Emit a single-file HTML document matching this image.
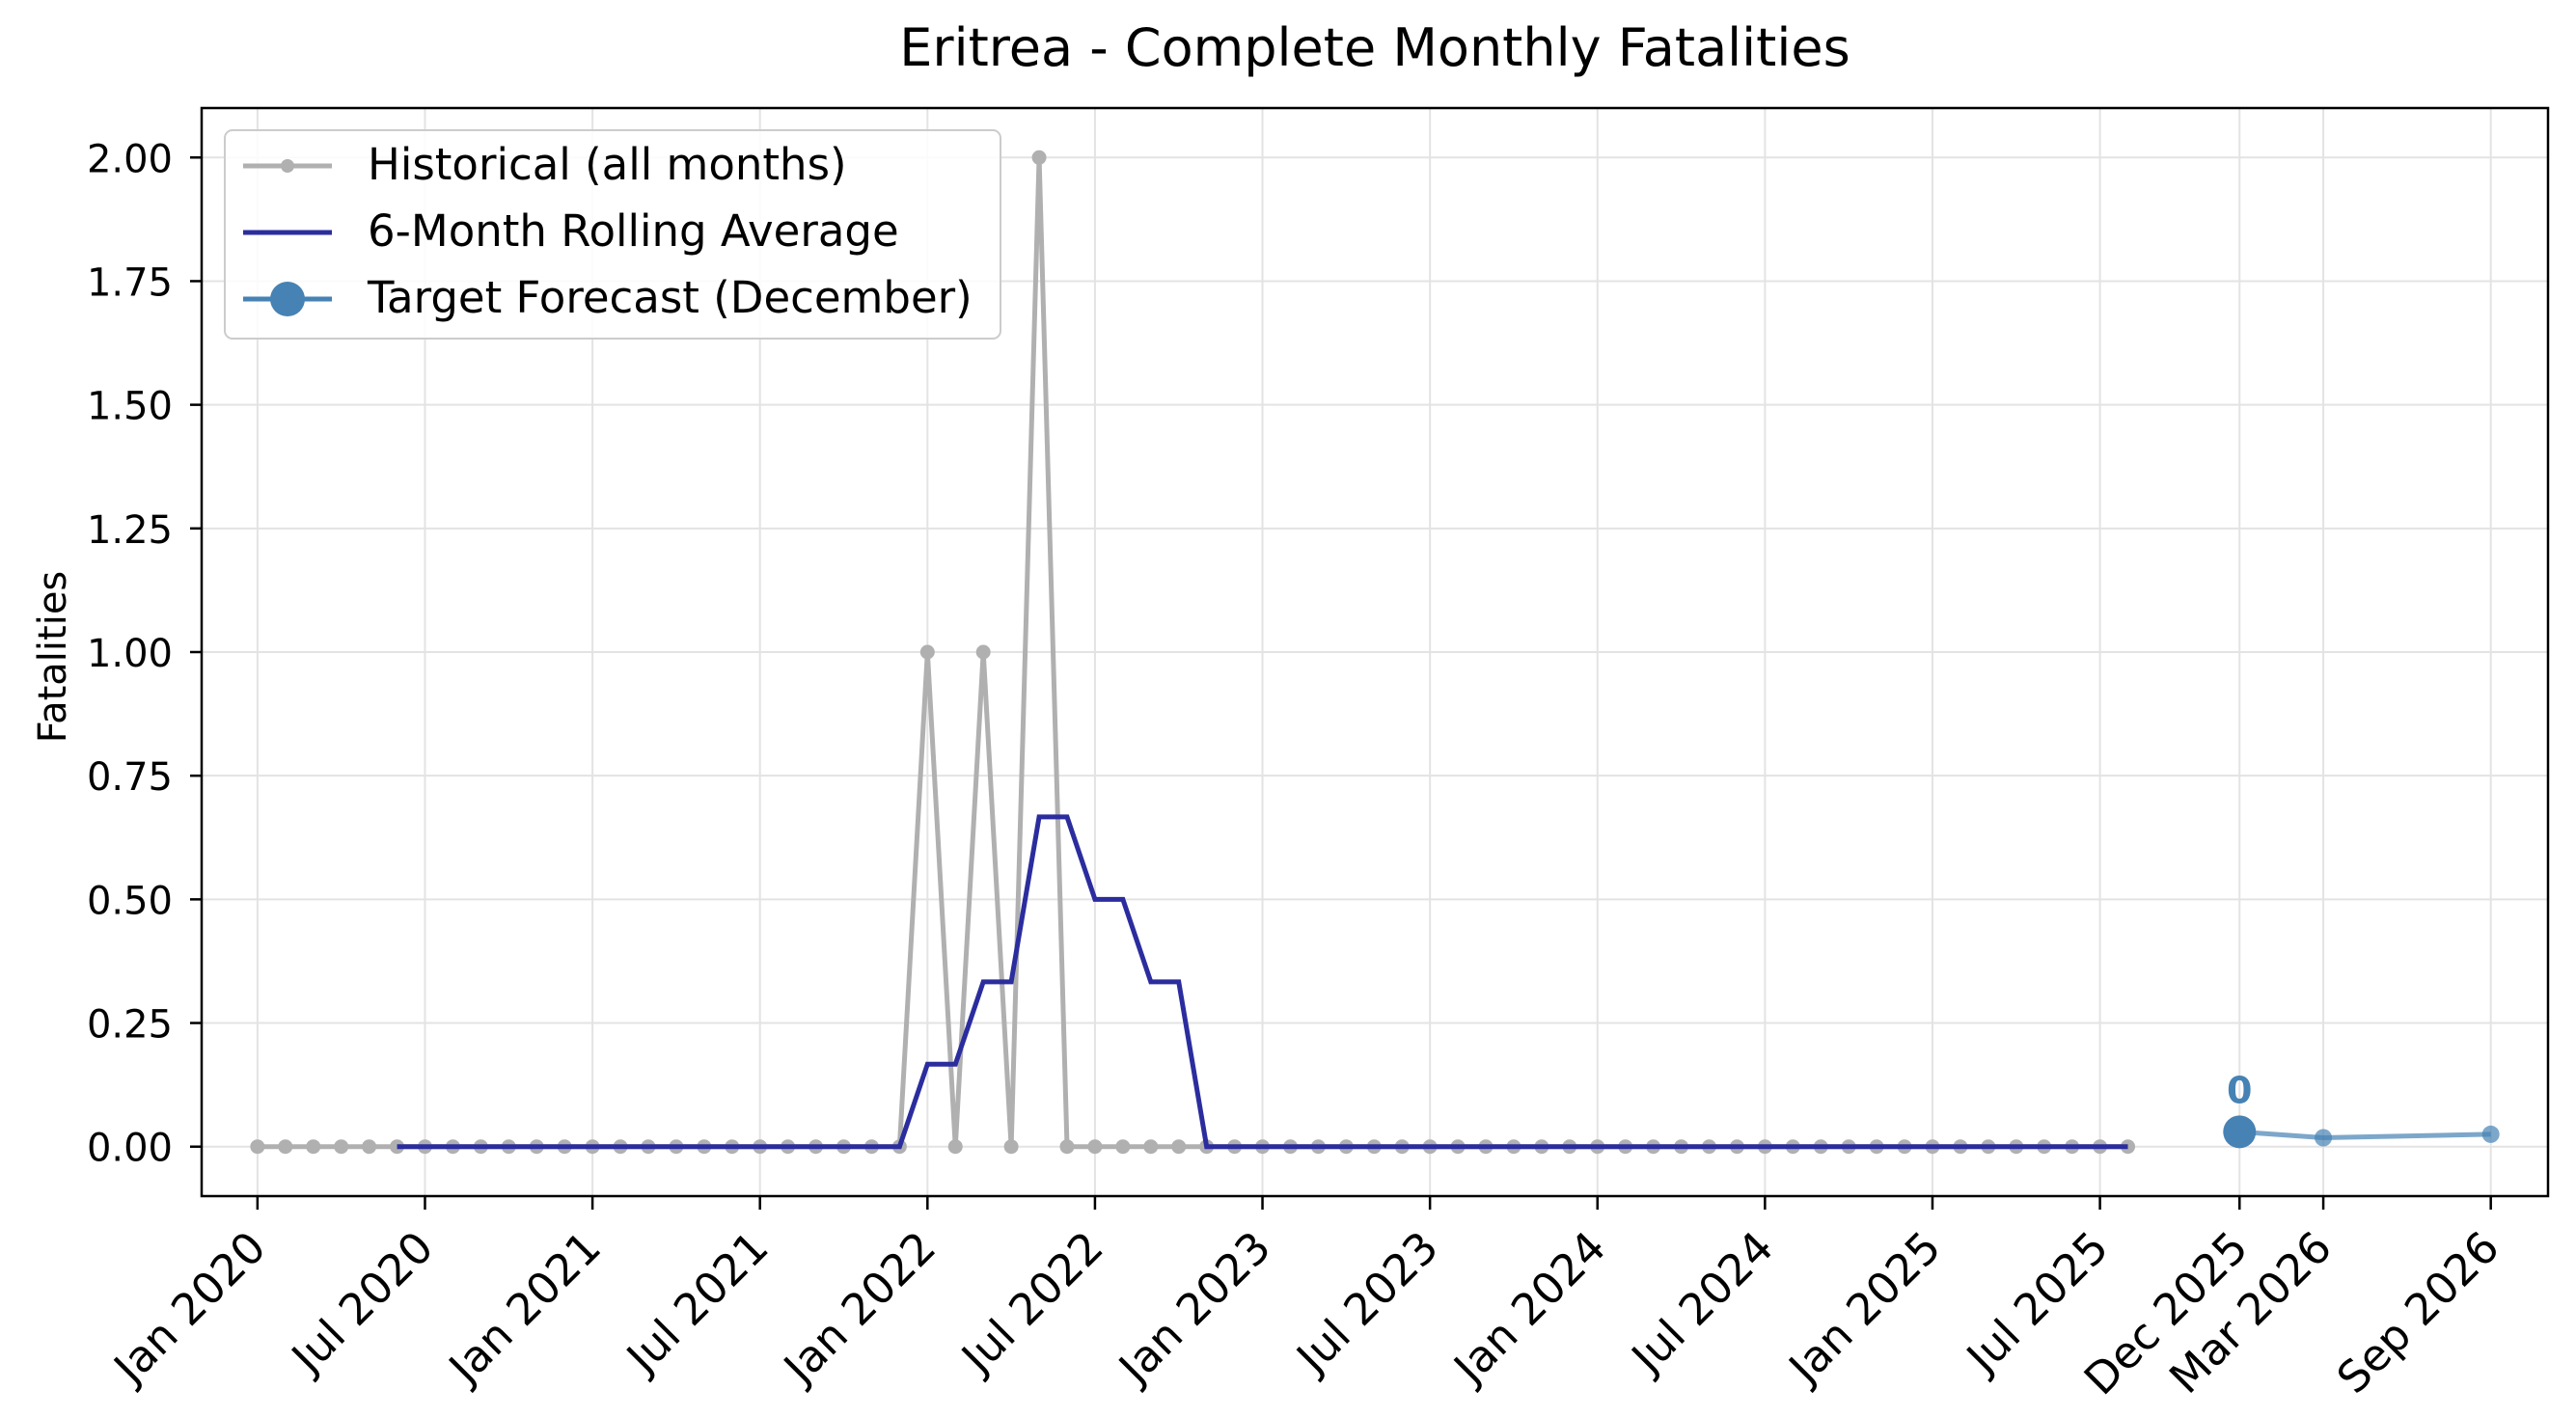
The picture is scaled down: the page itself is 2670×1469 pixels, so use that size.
<!DOCTYPE html>
<html><head><meta charset="utf-8"><style>
html,body{margin:0;padding:0;background:#fff}
svg{display:block;font-family:"DejaVu Sans","Liberation Sans",sans-serif}
</style></head><body>
<svg id="chart" width="2670" height="1469" viewBox="0 0 2670 1469" xmlns="http://www.w3.org/2000/svg">
<rect width="2670" height="1469" fill="#fff"/>
<text x="1425" y="68" font-size="54" text-anchor="middle" fill="#000">Eritrea - Complete Monthly Fatalities</text>
<text transform="translate(68,681) rotate(-90)" font-size="40" text-anchor="middle">Fatalities</text>
<g id="grid"></g>
<g id="series"></g>
<rect x="209" y="112" width="2432" height="1128" fill="none" stroke="#000" stroke-width="2.5"/>
<g id="axes"></g>
<g>
<rect x="233" y="135" width="804" height="216" rx="8" fill="#fff" fill-opacity="0.85" stroke="#ccc" stroke-width="2"/>
<g>
<line x1="252" y1="172" x2="344" y2="172" stroke="#b0b0b0" stroke-width="5"/><circle cx="298" cy="172" r="7" fill="#b0b0b0"/>
<text x="381" y="186" font-size="45">Historical (all months)</text></g>
<g>
<line x1="252" y1="241" x2="344" y2="241" stroke="#2b2d9e" stroke-width="5"/>
<text x="381" y="255" font-size="45">6-Month Rolling Average</text></g>
<g>
<line x1="252" y1="310" x2="344" y2="310" stroke="#4682b4" stroke-width="5"/><circle cx="298" cy="310" r="18" fill="#4682b4"/>
<text x="381" y="324" font-size="45">Target Forecast (December)</text></g>
</g>
</svg>
<script>
const histValues=[0,0,0,0,0,0,0,0,0,0,0,0,0,0,0,0,0,0,0,0,0,0,0,0,1,0,1,0,2,0,0,0,0,0,0,0,0,0,0,0,0,0,0,0,0,0,0,0,0,0,0,0,0,0,0,0,0,0,0,0,0,0,0,0,0,0,0,0];
const rollStart=5;
const rollValues=[0,0,0,0,0,0,0,0,0,0,0,0,0,0,0,0,0,0,0,0.1667,0.1667,0.3333,0.3333,0.6667,0.6667,0.5,0.5,0.3333,0.3333,0,0,0,0,0,0,0,0,0,0,0,0,0,0,0,0,0,0,0,0,0,0,0,0,0,0,0,0,0,0,0,0,0,0];
const fcMonths=[71,74,80];
const fcValues=[0.03,0.018,0.025];
const fcLabel="0";
const yTicks=[0,0.25,0.5,0.75,1,1.25,1.5,1.75,2];
const yTickLabels=["0.00","0.25","0.50","0.75","1.00","1.25","1.50","1.75","2.00"];
const xTickMonths=[0,6,12,18,24,30,36,42,48,54,60,66,71,74,80];
const xTickLabels=["Jan 2020","Jul 2020","Jan 2021","Jul 2021","Jan 2022","Jul 2022","Jan 2023","Jul 2023","Jan 2024","Jul 2024","Jan 2025","Jul 2025","Dec 2025","Mar 2026","Sep 2026"];

const L=209,R=2641,T=112,B=1240,xmin=-2,xmax=82.05,ymin=-0.1,ymax=2.1;
const X=m=>L+(m-xmin)/(xmax-xmin)*(R-L);
const Y=v=>B-(v-ymin)/(ymax-ymin)*(B-T);
const NS="http://www.w3.org/2000/svg";
function mk(tag,attrs,parent){const e=document.createElementNS(NS,tag);for(const k in attrs)e.setAttribute(k,attrs[k]);parent.appendChild(e);return e;}
const grid=document.getElementById('grid'),axes=document.getElementById('axes'),ser=document.getElementById('series');
yTicks.forEach((v,i)=>{
  const g=mk('line',{x1:L,x2:R,y1:Y(v),y2:Y(v),stroke:'#e3e3e3','stroke-width':2},grid);
  
  
  mk('line',{x1:L-12,x2:L,y1:Y(v),y2:Y(v),stroke:'#000','stroke-width':2.5},axes);
  const t=mk('text',{x:L-30,y:Y(v)+15,'font-size':40,'text-anchor':'end'},axes);
  
  
  t.textContent=yTickLabels[i];
});
xTickMonths.forEach((m,i)=>{
  const g=mk('line',{x1:X(m),x2:X(m),y1:T,y2:B,stroke:'#e3e3e3','stroke-width':2},grid);
  
  
  mk('line',{x1:X(m),x2:X(m),y1:B,y2:B+14,stroke:'#000','stroke-width':2.5},axes);
  const t=mk('text',{transform:`translate(${X(m)+11},${B+56}) rotate(-45)`,'font-size':45,'text-anchor':'end'},axes);
  
  
  t.textContent=xTickLabels[i];
});
const hp=histValues.map((v,i)=>X(i)+','+Y(v)).join(' ');
const hl=mk('polyline',{points:hp,fill:'none',stroke:'#b0b0b0','stroke-width':5},ser);


histValues.forEach((v,i)=>{
  const c=mk('circle',{cx:X(i),cy:Y(v),r:7.5,fill:'#b0b0b0'},ser);
  
  
});
const rp=rollValues.map((v,i)=>X(i+rollStart)+','+Y(v)).join(' ');
const rl=mk('polyline',{points:rp,fill:'none',stroke:'#2b2d9e','stroke-width':5},ser);


const fp=fcMonths.map((m,i)=>X(m)+','+Y(fcValues[i])).join(' ');
const fl=mk('polyline',{points:fp,fill:'none',stroke:'#4682b4','stroke-opacity':0.7,'stroke-width':5},ser);


fcMonths.forEach((m,i)=>{
  const c=mk('circle',{cx:X(m),cy:Y(fcValues[i]),r:i===0?17:9,fill:'#4682b4','fill-opacity':i===0?1:0.7},ser);
  
  
});
const lb=mk('text',{x:X(fcMonths[0]),y:Y(fcValues[0])-30,'font-size':38,'font-weight':'bold','text-anchor':'middle',fill:'#4682b4'},ser);


lb.textContent=fcLabel;
</script>
</body></html>
